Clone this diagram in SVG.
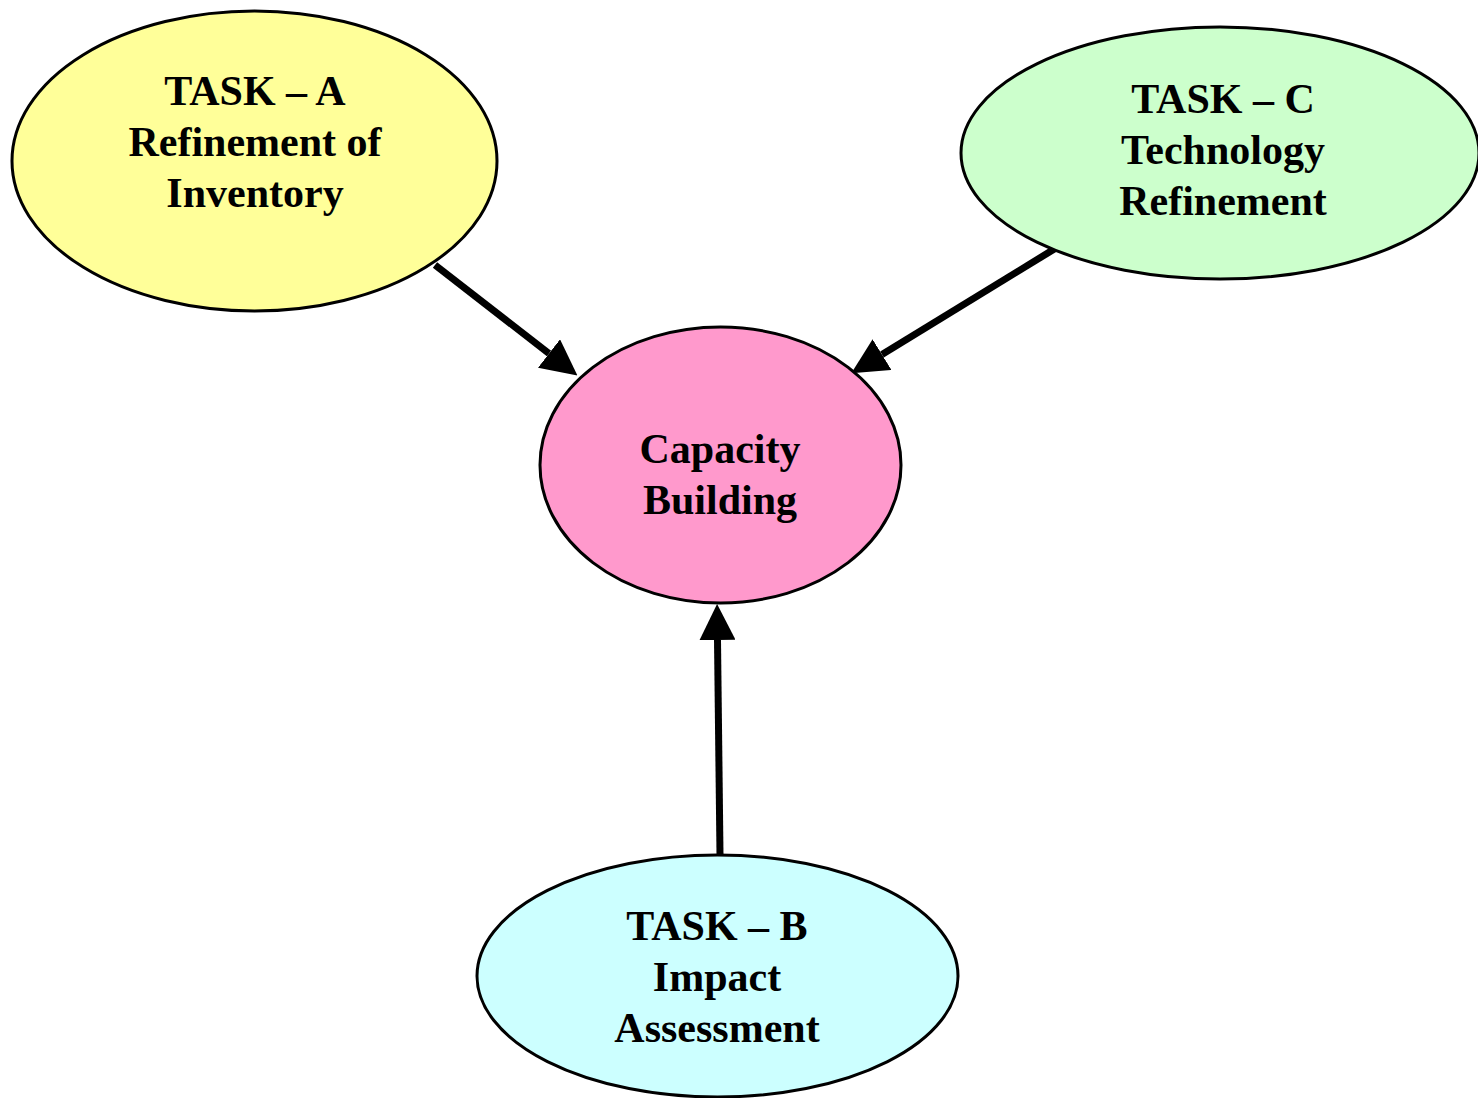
<svg xmlns="http://www.w3.org/2000/svg" width="1478" height="1098" viewBox="0 0 1478 1098">
<style>
.node ellipse{stroke:#000;stroke-width:3}
.node text{font-family:"Liberation Serif","Times New Roman",serif;font-weight:bold;font-size:42px;text-anchor:middle;fill:#000}
.conn line{stroke:#000;stroke-width:7;fill:none}
</style>
<defs>
<marker id="ah" markerUnits="userSpaceOnUse" markerWidth="36" markerHeight="36" viewBox="0 0 36 36" refX="0" refY="18" orient="auto">
<path d="M0,0 L36,18 L0,36 z" fill="#000"/>
</marker>
</defs>
<rect width="1478" height="1098" fill="#fff"/>
<g id="connectors" class="conn">
<line x1="435" y1="265" x2="549" y2="353.5" marker-end="url(#ah)"/>
<line x1="1056" y1="248" x2="882" y2="354.5" marker-end="url(#ah)"/>
<line x1="720" y1="855" x2="717.5" y2="640" marker-end="url(#ah)"/>
</g>
<g id="taskA" class="node">
<ellipse cx="254.5" cy="161" rx="242.5" ry="150" fill="#FFFF99"/>
<text x="255" y="105">TASK – A</text>
<text x="255" y="156">Refinement of</text>
<text x="255" y="207">Inventory</text>
</g>
<g id="taskC" class="node">
<ellipse cx="1220" cy="153" rx="259" ry="126" fill="#CCFFCC"/>
<text x="1223" y="113">TASK – C</text>
<text x="1223" y="164">Technology</text>
<text x="1223" y="215">Refinement</text>
</g>
<g id="capacity" class="node">
<ellipse cx="720.5" cy="465" rx="180.5" ry="138" fill="#FF99CC"/>
<text x="720" y="463">Capacity</text>
<text x="720" y="514">Building</text>
</g>
<g id="taskB" class="node">
<ellipse cx="717.5" cy="976" rx="240.5" ry="121" fill="#CCFFFF"/>
<text x="717" y="940">TASK – B</text>
<text x="717" y="991">Impact</text>
<text x="717" y="1042">Assessment</text>
</g>
</svg>
